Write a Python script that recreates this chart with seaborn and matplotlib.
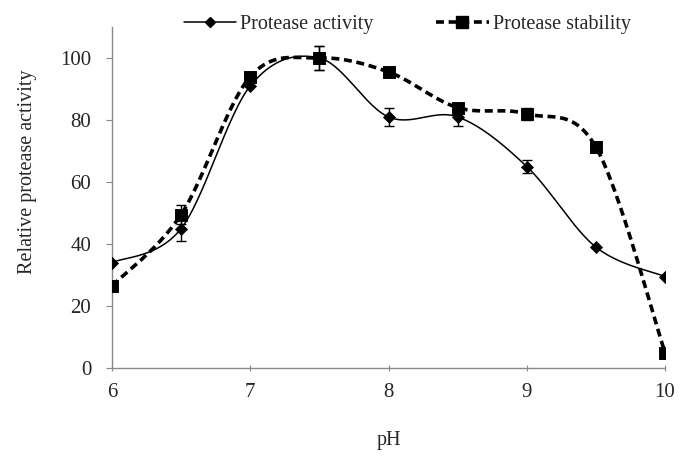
import numpy as np
import pandas as pd
import matplotlib
matplotlib.use("Agg")
import matplotlib.pyplot as plt
import seaborn as sns
from matplotlib.lines import Line2D

# Measured values
ph = [6, 6.5, 7, 7.5, 8, 8.5, 9, 9.5, 10]
activity = [34, 45, 91, 100, 81, 81, 65, 39, 29.5]
activity_err = [0, 4, 0, 4, 3, 3, 2, 0, 0]
stability = [26.5, 49.5, 94, 100, 95.5, 84, 82, 71.3, 5]
stability_err = [0, 3, 0, 4, 0, 0, 2, 0, 0]

x_ticks = [6, 7, 8, 9, 10]
y_ticks = [0, 20, 40, 60, 80, 100]

sns.set_theme(style="white")
plt.rcParams["font.family"] = ["Liberation Serif", "DejaVu Serif"]


def smooth_path(x, y, n=30, tension=0.5):
    """Cardinal-spline path through the points (spreadsheet-style smoothed line)."""
    x = np.asarray(x, float)
    y = np.asarray(y, float)
    px = np.concatenate([[x[0]], x, [x[-1]]])
    py = np.concatenate([[y[0]], y, [y[-1]]])
    xs, ys = [], []
    t = np.linspace(0, 1, n)
    for i in range(1, len(px) - 2):
        p0, p1, p2, p3 = (np.array([px[j], py[j]]) for j in range(i - 1, i + 3))
        m1 = tension * (p2 - p0)
        m2 = tension * (p3 - p1)
        h00 = 2 * t**3 - 3 * t**2 + 1
        h10 = t**3 - 2 * t**2 + t
        h01 = -2 * t**3 + 3 * t**2
        h11 = t**3 - t**2
        pts = (np.outer(h00, p1) + np.outer(h10, m1)
               + np.outer(h01, p2) + np.outer(h11, m2))
        xs.append(pts[:, 0])
        ys.append(pts[:, 1])
    return np.concatenate(xs), np.concatenate(ys)


df = pd.DataFrame({"pH": ph, "activity": activity, "stability": stability})

fig = plt.figure(figsize=(6.81, 4.58), dpi=100)
ax = fig.add_axes([0.1645, 0.1965, 0.812, 0.7445])

# Smoothed connecting curves
sx, sy = smooth_path(ph, activity)
ax.plot(sx, sy, color="black", lw=1.1, zorder=2)
tx, ty = smooth_path(ph, stability)
ax.plot(tx, ty, color="black", lw=2.6, dashes=(2.2, 1.3), zorder=2)

# Error bars
ax.errorbar(ph, activity, yerr=activity_err, fmt="none", ecolor="black",
            elinewidth=1.0, capsize=3.5, capthick=1.0, zorder=3)
ax.errorbar(ph, stability, yerr=stability_err, fmt="none", ecolor="black",
            elinewidth=1.0, capsize=3.5, capthick=1.0, zorder=3)

# Markers
sns.scatterplot(data=df, x="pH", y="activity", marker="D", s=38,
                color="black", edgecolor="black", ax=ax, zorder=4, legend=False)
sns.scatterplot(data=df, x="pH", y="stability", marker="s", s=70,
                color="black", edgecolor="black", ax=ax, zorder=4, legend=False)

ax.set_xlim(6, 10)
ax.set_ylim(0, 110)
ax.set_xticks(x_ticks)
ax.set_yticks(y_ticks)
ax.set_xticklabels([str(v) for v in x_ticks], fontsize=15)
ax.set_yticklabels([str(v) for v in y_ticks], fontsize=15)

for side in ("top", "right"):
    ax.spines[side].set_visible(False)
for side in ("left", "bottom"):
    ax.spines[side].set_color("#888888")
    ax.spines[side].set_linewidth(1.0)

ax.tick_params(axis="x", direction="inout", length=5, width=0.8,
               color="#888888", pad=8, bottom=True)
ax.tick_params(axis="y", direction="out", length=4, width=0.8,
               color="#888888", pad=11, left=True)

ax.set_xlabel("pH", fontsize=14.5, labelpad=21)
ax.set_ylabel("Relative protease activity", fontsize=14.5)
ax.yaxis.set_label_coords(-0.136, 0.575)

handles = [
    Line2D([0], [0], color="black", lw=1.1, marker="D", markersize=5),
    Line2D([0], [0], color="black", lw=2.6, dashes=(2.2, 1.3), marker="s",
           markersize=8),
]
fig.legend(handles, ["Protease activity", "Protease stability"],
           loc="center", bbox_to_anchor=(0.598, 0.946), ncol=2, frameon=False,
           fontsize=14.5, handlelength=2.6, columnspacing=3.1,
           handletextpad=0.2, borderpad=0, borderaxespad=0)

fig.savefig("out.png", dpi=100)
